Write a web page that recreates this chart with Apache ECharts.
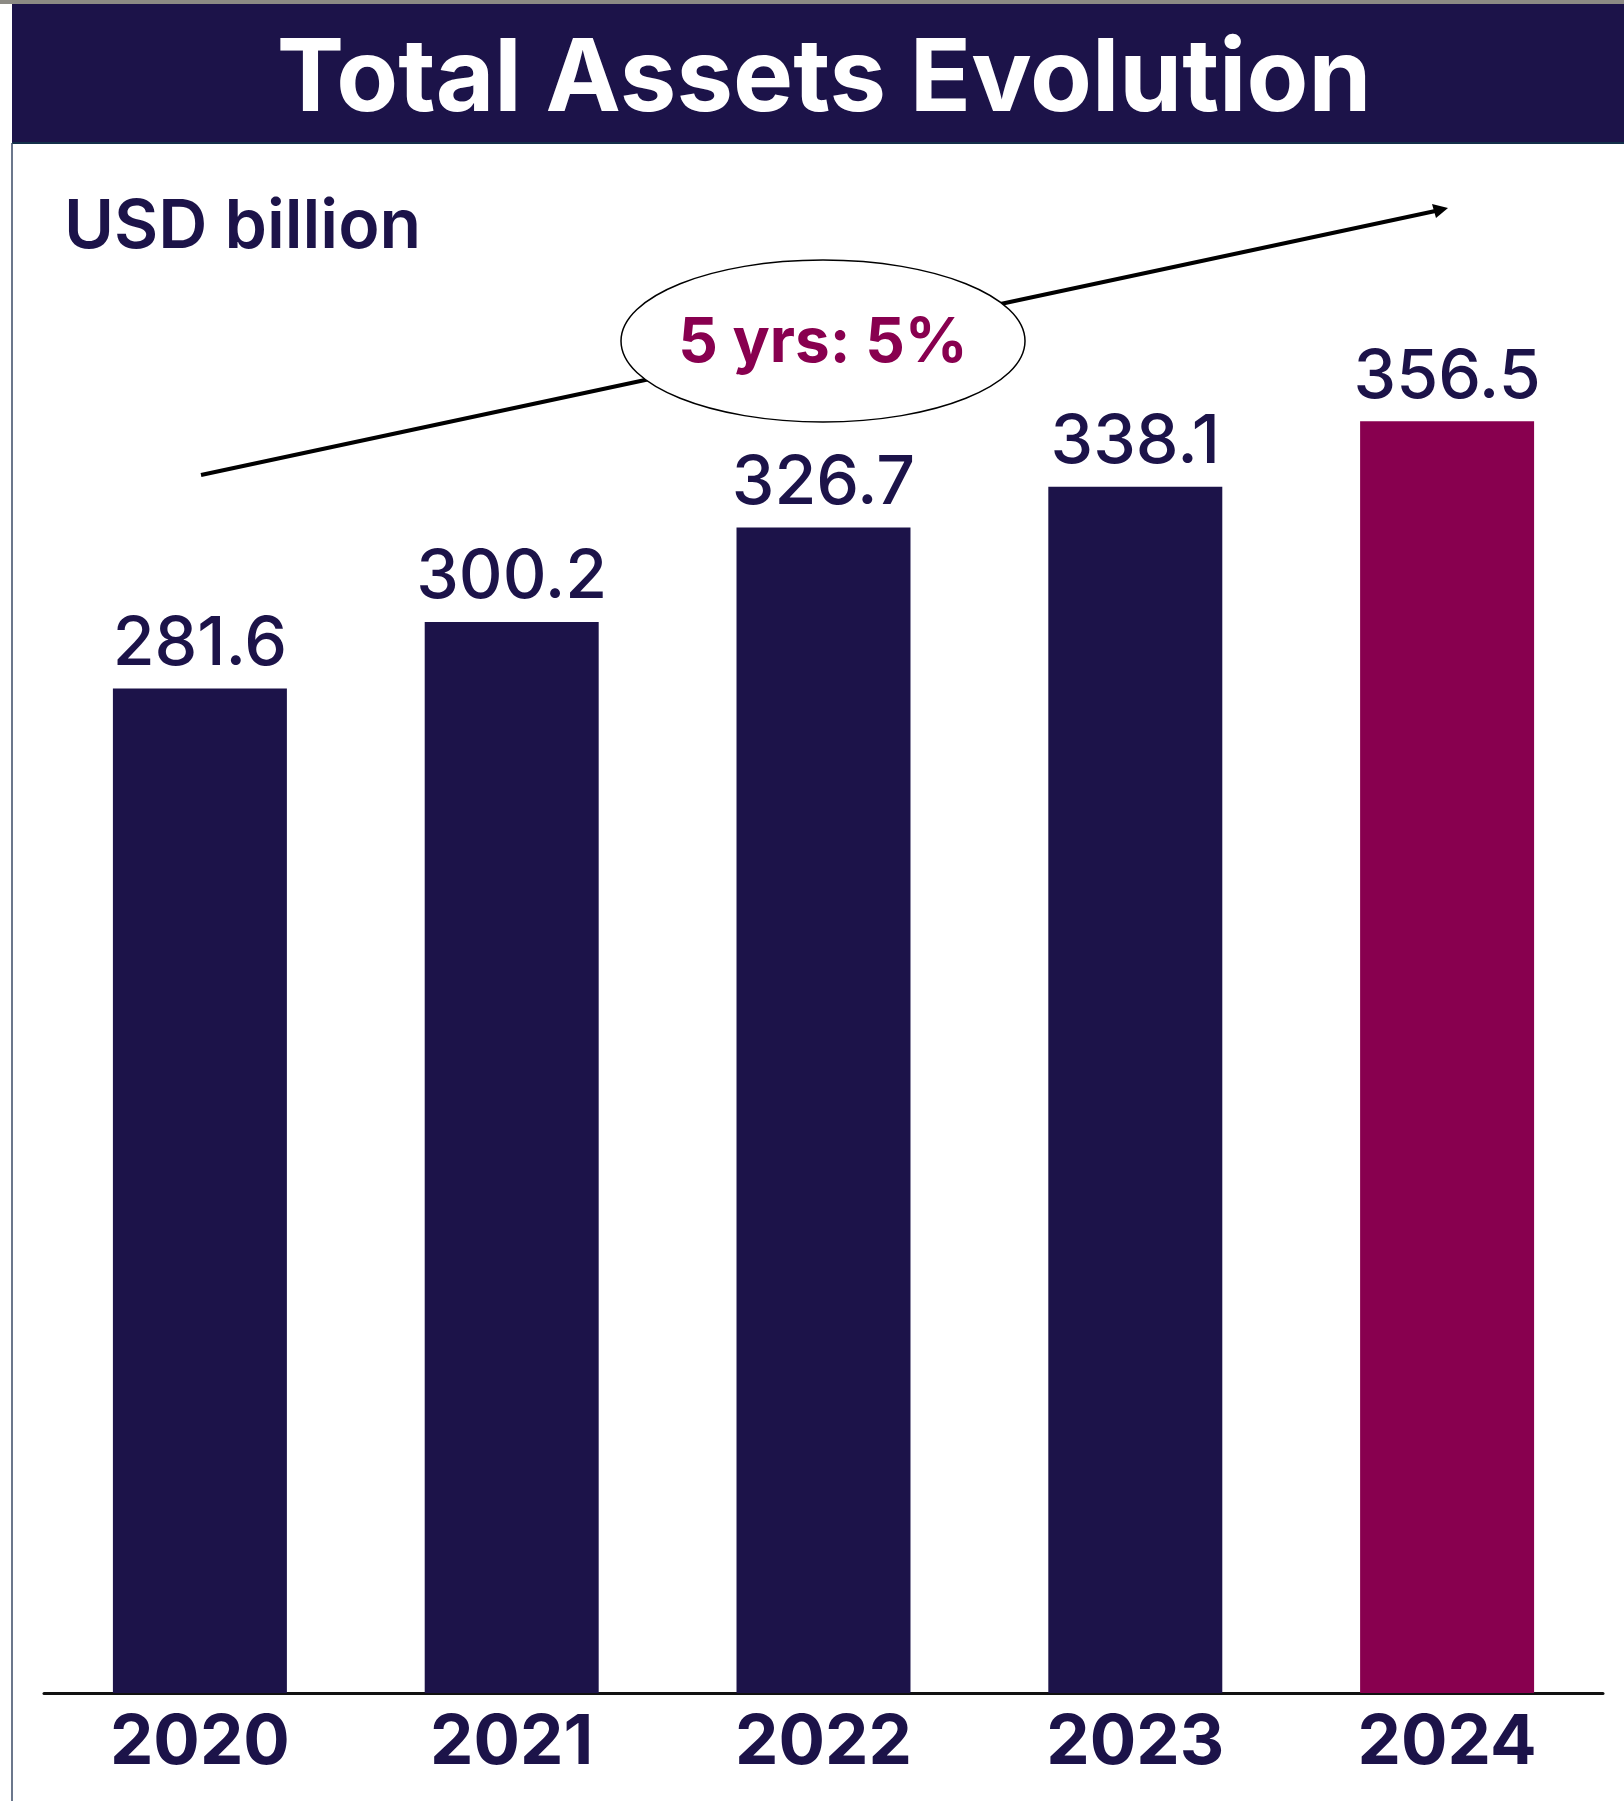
<!DOCTYPE html>
<html>
<head>
<meta charset="utf-8">
<script src="https://cdn.jsdelivr.net/npm/echarts@6/dist/echarts.min.js"></script>
<style>
  html, body { margin: 0; padding: 0; background: #fff; }
  #chart { width: 1624px; height: 1801px; }
</style>
</head>
<body>
<div id="chart"></div>
<script>
const years = ["2020", "2021", "2022", "2023", "2024"];
const assets = [281.6, 300.2, 326.7, 338.1, 356.5];
const barColors = ["#1c1349", "#1c1349", "#1c1349", "#1c1349", "#88004f"];

const navy = "#1c1349";
const font = "Inter";

const chart = echarts.init(document.getElementById("chart"));
chart.setOption({
  backgroundColor: "#fff",
  animation: false,
  grid: { left: 44, right: 21, top: 266, bottom: 108 },
  xAxis: {
    type: "category",
    data: years,
    axisLine: { lineStyle: { color: "#111", width: 3 } },
    axisTick: { show: false },
    axisLabel: {
      color: navy,
      fontFamily: font,
      fontWeight: "bold",
      fontSize: 69,
      lineHeight: 69,
      margin: 16
    }
  },
  yAxis: {
    type: "value",
    min: 0,
    max: 400,
    show: false,
    splitLine: { show: false }
  },
  series: [
    {
      type: "bar",
      barWidth: "55.8%",
      data: assets.map(function (v, i) {
        return { value: v, itemStyle: { color: barColors[i] } };
      }),
      label: {
        show: true,
        position: "top",
        distance: 10,
        color: navy,
        fontFamily: font,
        fontWeight: 500,
        fontSize: 68,
        lineHeight: 68,
        formatter: function (p) { return p.value.toFixed(1); }
      }
    }
  ],
  graphic: [
    // top strip and title bar
    { type: "rect", shape: { x: 0, y: 0, width: 1624, height: 4 }, style: { fill: "#8c8a84" } },
    { type: "rect", shape: { x: 12, y: 4, width: 1612, height: 139 }, style: { fill: navy } },
    { type: "line", shape: { x1: 12, y1: 143, x2: 1624, y2: 143 }, style: { stroke: "#13304a", lineWidth: 2 } },
    { type: "line", shape: { x1: 12, y1: 143, x2: 12, y2: 1801 }, style: { stroke: "#3a4a66", lineWidth: 1.5 } },
    {
      type: "text", x: 824, y: 81,
      style: {
        text: "Total Assets Evolution", fill: "#fff", font: "bold 101px Inter",
        textAlign: "center", textVerticalAlign: "middle"
      }
    },
    {
      type: "text", x: 64, y: 228,
      style: {
        text: "USD billion", fill: navy, font: "600 68px Inter",
        textAlign: "left", textVerticalAlign: "middle"
      }
    },
    // trend arrow
    {
      type: "line", z: 10,
      shape: { x1: 201, y1: 475, x2: 1440, y2: 210 },
      style: { stroke: "#000", lineWidth: 4 }
    },
    {
      type: "polygon", z: 10,
      shape: { points: [[1448, 208], [1432, 204], [1436, 218]] },
      style: { fill: "#000" }
    },
    {
      type: "ellipse", z: 11,
      shape: { cx: 823, cy: 341, rx: 202, ry: 81 },
      style: { fill: "#fff", stroke: "#000", lineWidth: 1.5 }
    },
    {
      type: "text", z: 12, x: 823, y: 343,
      style: {
        text: "5 yrs: 5%", fill: "#88004f", font: "bold 62px Inter",
        textAlign: "center", textVerticalAlign: "middle"
      }
    }
  ]
});
</script>
</body>
</html>
